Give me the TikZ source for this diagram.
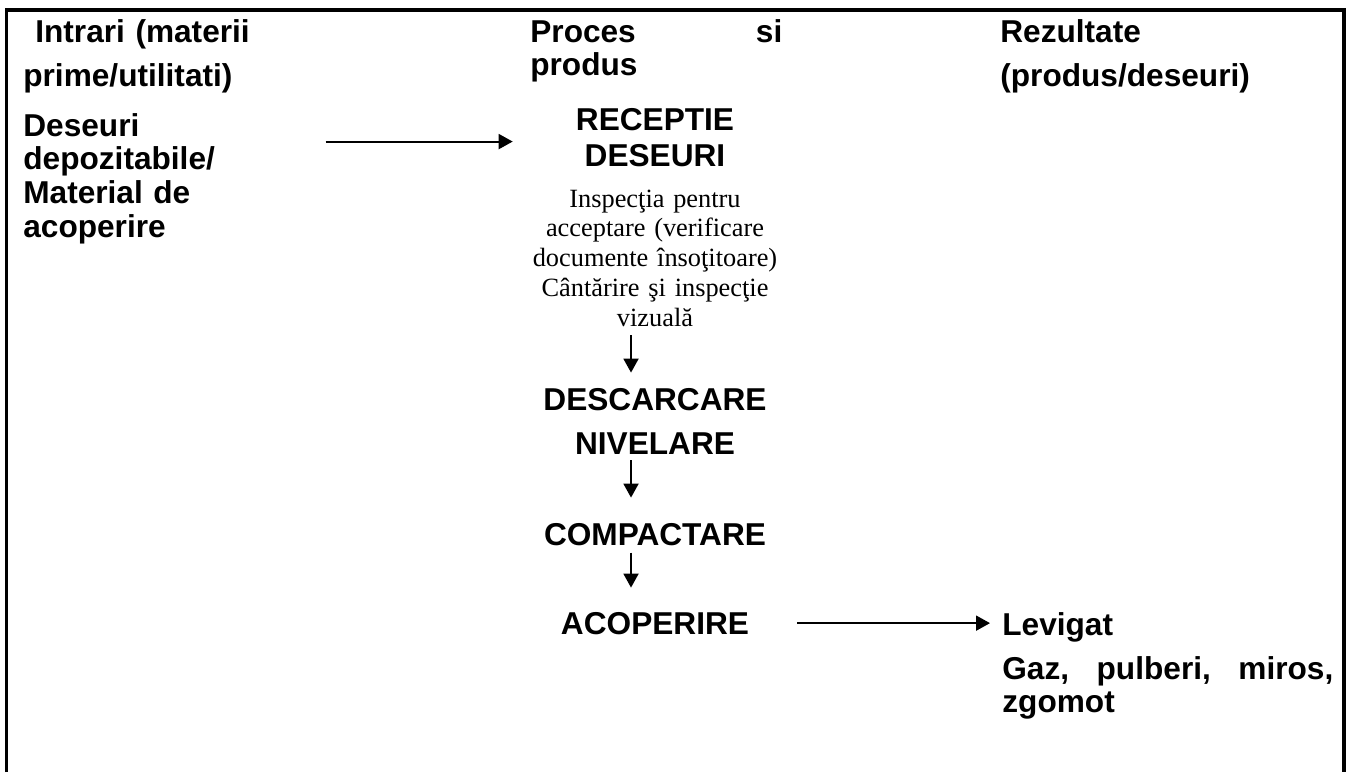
\documentclass[tikz,border=0pt]{standalone}
\usepackage{fontspec}
\setmainfont{Liberation Sans}
\newfontfamily\inspfont{Liberation Serif}
\usetikzlibrary{arrows.meta}
\tikzset{
  cell/.style={inner sep=0pt, anchor=base west, align=left, font=\fontsize{18}{#1}\selectfont\bfseries},
  cell/.default=19.3pt,
  stage/.style={inner sep=0pt, anchor=base, align=center, text width=5.68cm, font=\fontsize{18}{#1}\selectfont\bfseries},
  stage/.default=21pt,
  note/.style={inner sep=0pt, anchor=base, align=center, text width=7cm, font=\inspfont\fontsize{15}{17}\selectfont},
  arr/.style={-{Triangle[length=2.8mm,width=3mm]}, line width=1.1pt},
  frame/.style={line width=2pt},
}

\begin{document}
\begin{tikzpicture}[x=0.02cm, y=-0.02cm]
  \useasboundingbox (0,0) rectangle (1351,772);
  \draw[frame] (6.5,772) -- (6.5,10) -- (1344,10) -- (1344,772);
  % column heads
  \node[cell=25.6pt, text width=6.04cm] (hin) at (23,42) {\hspace*{0.24cm}Intrari (materii\\prime/utilitati)};
  \node[cell=18.8pt, text width=5.04cm] (hproc) at (530,42) {Proces\hfill si\\produs};
  \node[cell=25.6pt, text width=6.8cm] (hout) at (1000,42) {Rezultate\\(produs/deseuri)};
  % inputs
  \node[cell, text width=6.04cm] (inp) at (23,136) {Deseuri\\depozitabile/\\Material de\\acoperire};
  % process
  \node[stage] (recv) at (655,130) {RECEPTIE\\DESEURI};
  \node[note] (insp) at (655,207) {Inspecţia pentru\\acceptare (verificare\\documente însoţitoare)\\Cântărire şi inspecţie\\vizuală};
  \node[stage=25.6pt] (desc) at (655,410) {DESCARCARE\\NIVELARE};
  \node[stage] (comp) at (655,545) {COMPACTARE};
  \node[stage] (acop) at (655,634) {ACOPERIRE};
  % results
  \node[cell] (levi) at (1002,635) {Levigat};
  \node[cell, text width=6.62cm] (emis) at (1002,679) {Gaz,\hfill pulberi,\hfill miros,\\zgomot};
  \draw[arr] ([yshift=-0.08cm]inp.east |- recv.west) -- ([yshift=-0.08cm]recv.west);
  \foreach \p/\q/\a/\b in {insp/desc/0.16cm/0.3cm, desc/comp/0.1cm/0.5cm, comp/acop/0.14cm/0.48cm}
    \draw[arr, shorten <=\a, shorten >=\b] ([xshift=-0.48cm]\p.south) -- ([xshift=-0.48cm]\q.north);
  \draw[arr, shorten >=0.24cm] (acop.east) -- (acop.east -| levi.west);
\end{tikzpicture}
\end{document}
